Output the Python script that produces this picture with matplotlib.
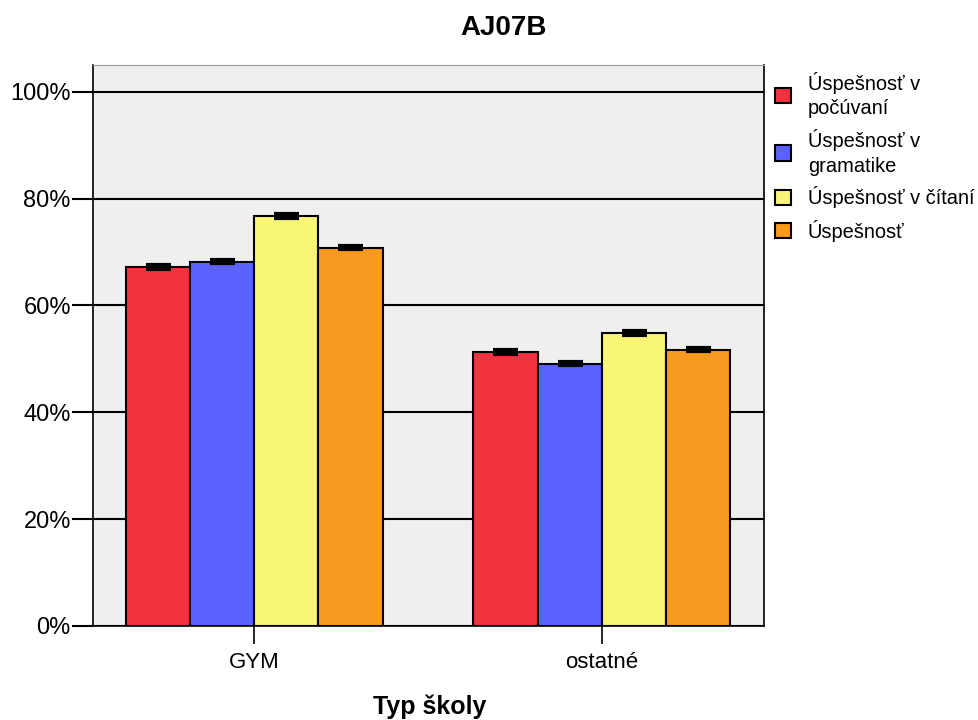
import numpy as np
import matplotlib
matplotlib.use("Agg")
import matplotlib.pyplot as plt
from matplotlib.ticker import PercentFormatter

plt.rcParams['font.family'] = ['Liberation Sans', 'DejaVu Sans']

groups = ['GYM', 'ostatné']
series = ['Úspešnosť v\npočúvaní', 'Úspešnosť v\ngramatike', 'Úspešnosť v čítaní', 'Úspešnosť']
values = [
    [67.2, 51.3],
    [68.2, 49.1],
    [76.8, 54.9],
    [70.8, 51.7],
]
errors = [
    [0.3, 0.3],
    [0.3, 0.3],
    [0.35, 0.35],
    [0.3, 0.3],
]
colors = ['#f2333f', '#5c62ff', '#f9f577', '#f89a1f']

fig = plt.figure(figsize=(9.79, 7.2), dpi=100)
ax = fig.add_axes([0.095, 0.1306, 0.6854, 0.7791])
ax.set_facecolor('#efefef')

x = np.arange(len(groups))
w = 0.1845
for i, (vals, errs) in enumerate(zip(values, errors)):
    pos = x + (i - 1.5) * w
    ax.bar(pos, vals, w, color=colors[i], edgecolor='black', linewidth=1.5,
           label=series[i], zorder=3)
    ax.errorbar(pos, vals, yerr=errs, fmt='none', ecolor='black',
                elinewidth=2, capsize=9, capthick=3, zorder=4)

ax.set_ylim(0, 105)
ax.set_xlim(-0.465, 1.468)
ax.set_yticks([0, 20, 40, 60, 80, 100])
ax.yaxis.set_major_formatter(PercentFormatter(decimals=0))
ax.grid(axis='y', color='black', linewidth=1.5, zorder=1)
ax.set_xticks(x)
ax.set_xticklabels(groups)
ax.tick_params(axis='y', length=15, width=1.5, labelsize=17, pad=1, direction='out')
ax.tick_params(axis='x', length=13, width=1.2, labelsize=16, pad=6)

ax.spines['top'].set_color('#999999')
for s in ['left', 'bottom', 'right']:
    ax.spines[s].set_linewidth(1.2)

fig.text(0.514, 0.961, 'AJ07B', fontsize=20, fontweight='bold', ha='center', va='center')
fig.text(0.439, 0.018, 'Typ školy', fontsize=18, fontweight='bold', ha='center', va='center')

leg = ax.legend(loc='upper left', bbox_to_anchor=(775 / 979, 1 - 72 / 720),
                bbox_transform=fig.transFigure, frameon=False,
                fontsize=14.4, handlelength=0.8, handleheight=0.8,
                handletextpad=0.85, labelspacing=0.55, borderaxespad=0,
                borderpad=0)
for t in leg.get_texts():
    t.set_linespacing(1.35)
for h in leg.legend_handles:
    h.set_linewidth(1.5)

fig.savefig('out.png', dpi=100)
